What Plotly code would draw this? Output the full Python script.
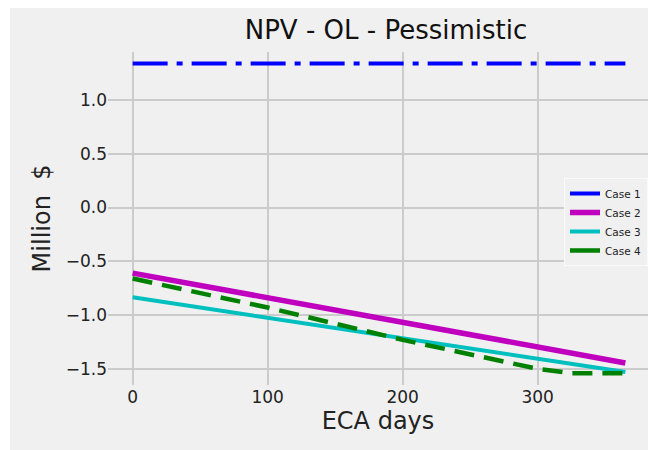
import plotly.graph_objects as go

# Data
days_flat = [0, 365]
case1 = [1.34, 1.34]
case2 = [-0.61, -1.445]
case3 = [-0.835, -1.53]
days_c4 = [0, 100, 200, 300, 325, 365]
case4 = [-0.66, -0.93, -1.23, -1.50, -1.54, -1.54]

x_ticks = [0, 100, 200, 300]
y_ticks = [-1.5, -1.0, -0.5, 0.0, 0.5, 1.0]

FONT = "DejaVu Sans"
W, H = 648, 450
ML, MR, MT, MB = 108, 0, 52, 65
PW = W - ML - MR
PH = H - MT - MB

fig = go.Figure()
fig.add_trace(go.Scatter(x=days_flat, y=case1, mode="lines", name="Case 1",
                         line=dict(color="#0000ff", width=4, dash="35px,9px,6px,9px")))
fig.add_trace(go.Scatter(x=days_flat, y=case2, mode="lines", name="Case 2",
                         line=dict(color="#bf00bf", width=5.5)))
fig.add_trace(go.Scatter(x=days_flat, y=case3, mode="lines", name="Case 3",
                         line=dict(color="#00bfbf", width=4)))
fig.add_trace(go.Scatter(x=days_c4, y=case4, mode="lines", name="Case 4",
                         line=dict(color="#008000", width=4.5, dash="20px,10px"),
                         showlegend=False))
# legend entry for Case 4 (short dash looks solid in the legend; no data drawn)
fig.add_trace(go.Scatter(x=[None], y=[None], mode="lines", name="Case 4",
                         line=dict(color="#008000", width=4.5)))

# gray figure background with a white margin at left and top
fig.add_shape(type="rect", xref="paper", yref="paper", layer="below",
              x0=(10 - ML) / PW, x1=1.05, y0=-(H + 5 - MT - PH) / PH, y1=(PH + MT - 8) / PH,
              fillcolor="#f0f0f0", line=dict(width=0))

fig.update_layout(
    width=W, height=H,
    margin=dict(l=ML, r=MR, t=MT, b=MB),
    paper_bgcolor="white",
    plot_bgcolor="#f0f0f0",
    font=dict(family=FONT, color="#222222", size=17),
    title=dict(text="NPV - OL - Pessimistic", x=386 / W, xanchor="center",
               y=1 - 30 / H, yanchor="middle", font=dict(size=26, family=FONT, color="#111111")),
    showlegend=True,
    legend=dict(x=(564 - ML) / PW, y=(MT + PH - 178) / PH, xanchor="left", yanchor="top",
                bgcolor="#f0f0f0", bordercolor="#fafafa", borderwidth=1,
                font=dict(size=10.5, family=FONT, color="#222222"),
                itemwidth=30, tracegroupgap=0),
    xaxis=dict(range=[-18.25, (W - MR - ML) / 1.35 - 18.25], tickvals=x_ticks,
               showgrid=True, gridcolor="#cbcbcb", gridwidth=1.5, zeroline=False,
               showline=False, ticks="", ticklen=0,
               title=dict(text="ECA days", font=dict(size=24, family=FONT, color="#222222"), standoff=6)),
    yaxis=dict(range=[-1.65, 1.446], tickvals=y_ticks, tickformat=".1f",
               showgrid=True, gridcolor="#cbcbcb", gridwidth=1.5, zeroline=False,
               showline=False, ticks="", ticklen=0,
               title=dict(text="Million\u00a0 $", font=dict(size=24, family=FONT, color="#222222"), standoff=8)),
)

fig.write_html("out.html")
